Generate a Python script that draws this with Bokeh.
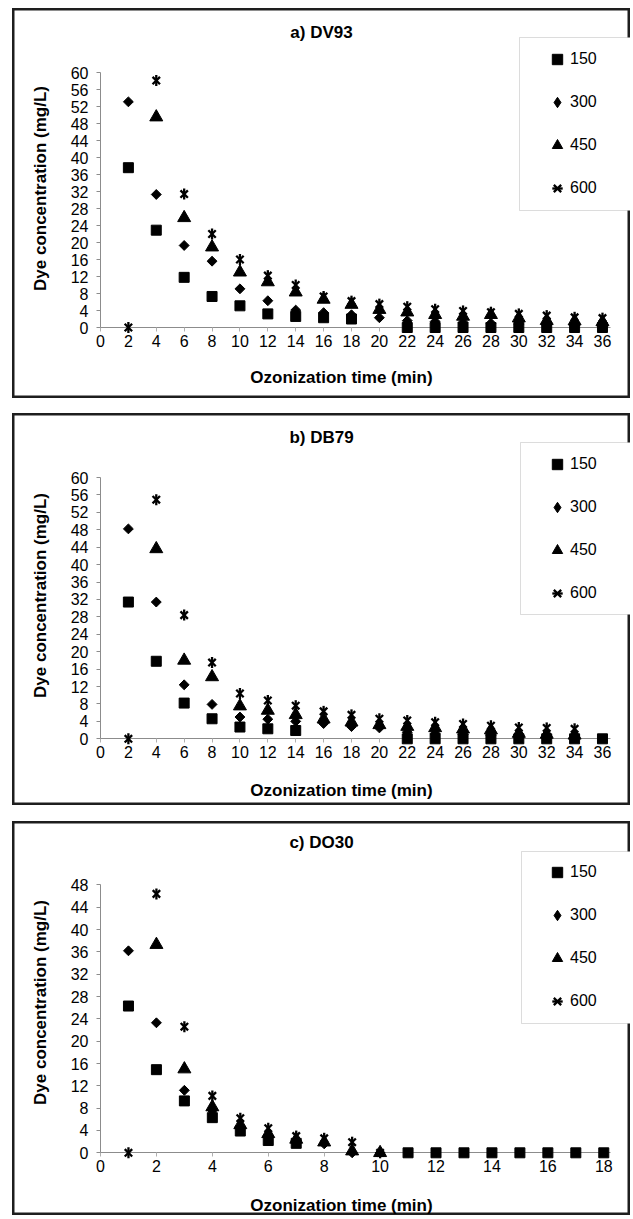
import math
from bokeh.plotting import figure
from bokeh.models import FixedTicker, Label, Legend, LegendItem, Range1d, BoxAnnotation
from bokeh.layouts import column
from bokeh.embed import file_html
from bokeh.resources import INLINE

nan = float("nan")

series_names = ["150", "300", "450", "600"]
x_title = "Ozonization time (min)"
y_title = "Dye concentration (mg/L)"

# ---- a) DV93 ----
a_title = "a) DV93"
a_time = [2, 4, 6, 8, 10, 12, 14, 16, 18, 20, 22, 24, 26, 28, 30, 32, 34, 36]
a_150 = [37.6, 22.9, 11.8, 7.3, 5.1, 3.2, 2.6, 2.3, 2.0, nan, 0, 0, 0, 0, 0, 0, 0, 0]
a_300 = [53.1, 31.3, 19.3, 15.6, 9.1, 6.3, 4.1, 3.5, 3.0, 2.3, 1.6, 1.4, 1.2, 1.0, 0.8, 0.6, 0.5, 0.5]
a_450 = [nan, 49.5, 25.8, 18.9, 13.0, 10.7, 8.3, 6.6, 5.4, 4.2, 3.6, 3.0, 2.6, 3.0, 2.2, 1.6, 1.5, 1.3]
a_600 = [0, 58.1, 31.4, 22.0, 16.0, 12.2, 10.0, 7.3, 6.2, 5.5, 4.9, 4.3, 3.9, 3.6, 3.2, 2.8, 2.4, 2.2]
a_xticks = list(range(0, 37, 2))
a_yticks = list(range(0, 61, 4))

# ---- b) DB79 ----
b_title = "b) DB79"
b_time = [2, 4, 6, 8, 10, 12, 14, 16, 18, 20, 22, 24, 26, 28, 30, 32, 34, 36]
b_150 = [31.4, 17.8, 8.2, 4.6, 2.7, 2.3, 1.9, nan, nan, nan, 0, 0, 0, 0, 0, 0, 0, 0]
b_300 = [48.2, 31.4, 12.4, 7.9, 5.0, 4.5, 4.0, 3.5, 2.8, 2.5, 1.5, 1.2, 1.0, 0.8, 0.6, 0.5, 0.4, nan]
b_450 = [nan, 43.6, 18.0, 14.2, 7.5, 6.5, 5.5, 4.5, 3.8, 3.2, 2.8, 2.5, 2.2, 2.0, 1.2, 1.0, 0.8, nan]
b_600 = [0, 54.9, 28.4, 17.5, 10.4, 8.8, 7.6, 6.3, 5.5, 4.6, 4.2, 3.8, 3.4, 3.0, 2.6, 2.5, 2.3, nan]
b_xticks = list(range(0, 37, 2))
b_yticks = list(range(0, 61, 4))

# ---- c) DO30 ----
c_title = "c) DO30"
c_time = [1, 2, 3, 4, 5, 6, 7, 8, 9, 10, 11, 12, 13, 14, 15, 16, 17, 18]
c_150 = [26.3, 14.9, 9.3, 6.3, 3.9, 2.2, 1.7, nan, nan, nan, 0, 0, 0, 0, 0, 0, 0, 0]
c_300 = [36.2, 23.3, 11.2, 7.6, 4.6, 3.0, 2.2, 1.6, 0.0, 0.0, nan, nan, nan, nan, nan, nan, nan, nan]
c_450 = [nan, 37.3, 15.0, 8.2, 5.0, 3.4, 2.4, 1.9, 0.3, 0.0, nan, nan, nan, nan, nan, nan, nan, nan]
c_600 = [0.0, 46.4, 22.6, 10.2, 6.2, 4.4, 3.0, 2.6, 1.9, 0.0, nan, nan, nan, nan, nan, nan, nan, nan]
c_xticks = list(range(0, 19, 2))
c_yticks = list(range(0, 49, 4))

FONT = "Liberation Sans"
AXIS_GREY = "#8c8c8c"
W = 618


def make_panel(title, t, s150, s300, s450, s600, xticks, yticks, L, margin):
    # L: layout geometry in page pixels
    ox, oy, H = L["ox"], L["oy"], L["H"]
    x0, xs, y0, ys = L["x0"], L["xs"], L["y0"], L["ys"]

    def dx(px):
        return (px - x0) / xs

    def dy(py):
        return (y0 - py) / ys

    p = figure(width=W, height=H, output_backend="svg", toolbar_location=None,
               x_range=Range1d(dx(ox), dx(ox + W)), y_range=Range1d(dy(oy + H), dy(oy)),
               min_border=0, margin=margin)
    p.grid.visible = False
    p.outline_line_color = "#1e1e1e"
    p.outline_line_width = 4
    p.background_fill_color = "white"
    p.border_fill_color = "white"

    xa = p.xaxis[0]
    xa.fixed_location = 0
    xa.bounds = (0, L["xend"])
    xa.level = "underlay"
    xa.ticker = FixedTicker(ticks=xticks)
    xa.axis_line_color = AXIS_GREY
    xa.major_tick_in = 0
    xa.major_tick_out = 4
    xa.minor_tick_line_color = None
    xa.major_tick_line_color = "#b0b0b0"
    xa.major_label_text_font = FONT
    xa.major_label_text_font_size = "16px"
    xa.major_label_text_color = "black"
    xa.major_label_standoff = 3

    ya = p.yaxis[0]
    ya.fixed_location = 0
    ya.bounds = (0, yticks[-1])
    ya.level = "underlay"
    ya.ticker = FixedTicker(ticks=yticks)
    ya.axis_line_color = AXIS_GREY
    ya.major_tick_in = 0
    ya.major_tick_out = 4
    ya.minor_tick_line_color = None
    ya.major_tick_line_color = AXIS_GREY
    ya.major_label_text_font = FONT
    ya.major_label_text_font_size = "16px"
    ya.major_label_text_color = "black"
    ya.major_label_standoff = 8

    r150 = p.scatter(t, s150, marker="square", size=10, color="black")
    p.scatter(t, s300, marker="square", angle=math.pi / 4, size=7, color="black")
    r450 = p.scatter(t, s450, marker="triangle", size=13, color="black")
    r600a = p.scatter(t, s600, marker="x", size=10.5, line_color="black", line_width=2.3)
    r600b = p.scatter(t, s600, marker="dash", angle=math.pi / 2, size=11,
                      line_color="black", line_width=2.3)
    # legend swatch for the diamond series (no visible points of its own)
    r300_key = p.scatter([nan], [nan], marker="diamond", size=10, color="black")

    # legend frame
    lb = L["lbox"]
    p.add_layout(BoxAnnotation(left=dx(lb[0]), right=dx(ox + W + 10), top=dy(lb[1]),
                               bottom=dy(lb[2]), fill_color="white", fill_alpha=1.0,
                               line_color=AXIS_GREY, line_width=1))

    legend = Legend(items=[LegendItem(label=series_names[0], renderers=[r150]),
                           LegendItem(label=series_names[1], renderers=[r300_key]),
                           LegendItem(label=series_names[2], renderers=[r450]),
                           LegendItem(label=series_names[3], renderers=[r600a, r600b])],
                    location=L["lloc"])
    legend.padding = 0
    legend.margin = 0
    legend.spacing = 17
    legend.glyph_height = 26
    legend.label_height = 26
    legend.glyph_width = 26
    legend.label_standoff = 0
    legend.label_text_font = FONT
    legend.label_text_font_size = "16px"
    legend.label_text_color = "black"
    legend.border_line_color = None
    legend.background_fill_alpha = 0
    p.add_layout(legend)

    tx, ty = L["title"]
    p.add_layout(Label(x=dx(tx), y=dy(ty), text=title, text_font=FONT,
                       text_font_size="17px", text_font_style="bold",
                       text_align="center", text_baseline="middle", text_color="black"))
    xx, xy = L["xlab"]
    p.add_layout(Label(x=dx(xx), y=dy(xy), text=x_title, text_font=FONT,
                       text_font_size="17px", text_font_style="bold",
                       text_align="center", text_baseline="middle", text_color="black"))
    yx, yy = L["ylab"]
    p.add_layout(Label(x=dx(yx), y=dy(yy), text=y_title, text_font=FONT, angle=math.pi / 2,
                       text_font_size="17px", text_font_style="bold",
                       text_align="center", text_baseline="middle", text_color="black"))
    return p


LA = dict(ox=12, oy=8, H=390, x0=100, xs=13.944, y0=327, ys=4.25, xend=36.57,
          lbox=(519, 37, 210), lloc=(532, 197), title=(321, 32), xlab=(341, 377),
          ylab=(40, 188))
LB = dict(ox=12, oy=413, H=392, x0=100, xs=13.944, y0=738.3, ys=4.355, xend=36.57,
          lbox=(520, 442, 614), lloc=(532, 199), title=(321, 437), xlab=(341, 790),
          ylab=(40, 595))
LC = dict(ox=12, oy=821, H=394, x0=100, xs=27.96, y0=1152.3, ys=5.58, xend=18.24,
          lbox=(521, 851, 1023), lloc=(532, 201), title=(321, 842), xlab=(341, 1205),
          ylab=(40, 1002))

pa = make_panel(a_title, a_time, a_150, a_300, a_450, a_600, a_xticks, a_yticks, LA, (8, 0, 0, 12))
pb = make_panel(b_title, b_time, b_150, b_300, b_450, b_600, b_xticks, b_yticks, LB, (15, 0, 0, 12))
pc = make_panel(c_title, c_time, c_150, c_300, c_450, c_600, c_xticks, c_yticks, LC, (16, 0, 0, 12))

layout = column(pa, pb, pc, spacing=0)
open("out.html", "w").write(file_html(layout, INLINE))
